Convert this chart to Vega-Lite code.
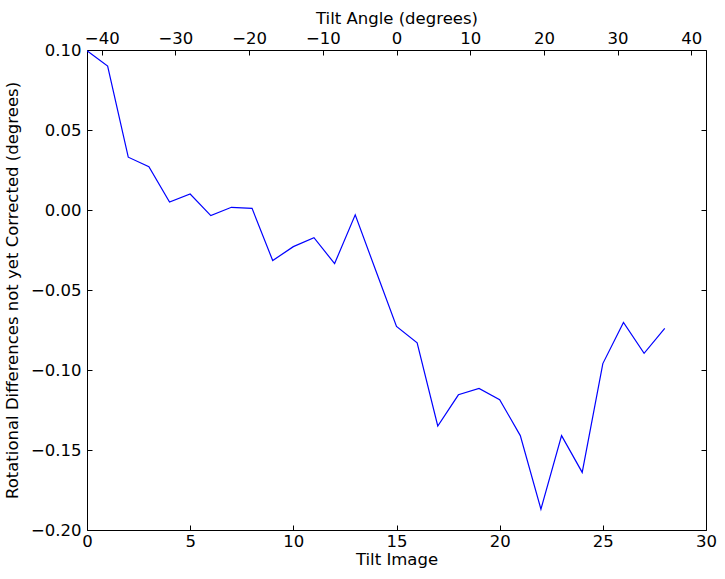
{
  "$schema": "https://vega.github.io/schema/vega-lite/v6.json",
  "width": 619,
  "height": 480,
  "autosize": "none",
  "padding": {"left": 87, "top": 50, "right": 19, "bottom": 49},
  "background": "white",
  "config": {
    "view": {"stroke": "black", "strokeWidth": 1},
    "font": "DejaVu Sans",
    "axis": {
      "domain": false,
      "grid": false,
      "tickColor": "black",
      "tickSize": -5,
      "labelFont": "DejaVu Sans",
      "labelFontSize": 16.5,
      "labelColor": "black",
      "titleFont": "DejaVu Sans",
      "titleFontSize": 16.5,
      "titleFontWeight": "normal",
      "titleColor": "black",
      "labelFlush": false,
      "labelOverlap": false
    }
  },
  "datasets": {
    "main": [
      {"image": 0, "value": 0.0995},
      {"image": 1, "value": 0.090},
      {"image": 2, "value": 0.033},
      {"image": 3, "value": 0.027},
      {"image": 4, "value": 0.005},
      {"image": 5, "value": 0.010},
      {"image": 6, "value": -0.0035},
      {"image": 7, "value": 0.0017},
      {"image": 8, "value": 0.001},
      {"image": 9, "value": -0.0316},
      {"image": 10, "value": -0.0229},
      {"image": 11, "value": -0.0173},
      {"image": 12, "value": -0.0335},
      {"image": 13, "value": -0.003},
      {"image": 14, "value": -0.038},
      {"image": 15, "value": -0.0728},
      {"image": 16, "value": -0.083},
      {"image": 17, "value": -0.135},
      {"image": 18, "value": -0.1155},
      {"image": 19, "value": -0.1115},
      {"image": 20, "value": -0.1185},
      {"image": 21, "value": -0.141},
      {"image": 22, "value": -0.187},
      {"image": 23, "value": -0.141},
      {"image": 24, "value": -0.164},
      {"image": 25, "value": -0.096},
      {"image": 26, "value": -0.0703},
      {"image": 27, "value": -0.0896},
      {"image": 28, "value": -0.074}
    ],
    "angles": [
      {"angle": -42, "value": 0},
      {"angle": 42, "value": 0}
    ]
  },
  "layer": [
    {
      "data": {"name": "main"},
      "mark": {"type": "line", "color": "#0000ff", "strokeWidth": 1.2, "clip": true},
      "encoding": {
        "x": {
          "field": "image",
          "type": "quantitative",
          "scale": {"domain": [0, 30], "nice": false, "zero": false},
          "axis": {"orient": "bottom", "title": "Tilt Image", "values": [0, 5, 10, 15, 20, 25, 30], "labelPadding": 8, "titlePadding": 2}
        },
        "y": {
          "field": "value",
          "type": "quantitative",
          "scale": {"domain": [-0.2, 0.1], "nice": false, "zero": false},
          "axis": {"orient": "left", "title": "Rotational Differences not yet Corrected (degrees)", "values": [-0.2, -0.15, -0.1, -0.05, 0, 0.05, 0.1], "format": ".2f", "labelPadding": 11, "titlePadding": 10}
        }
      }
    },
    {
      "data": {"name": "angles"},
      "mark": {"type": "point", "opacity": 0},
      "encoding": {
        "x": {
          "field": "angle",
          "type": "quantitative",
          "scale": {"domain": [-42, 42], "nice": false, "zero": false},
          "axis": {"orient": "top", "title": "Tilt Angle (degrees)", "values": [-40, -30, -20, -10, 0, 10, 20, 30, 40], "labelPadding": 9, "titlePadding": 4}
        },
        "y": {
          "field": "value",
          "type": "quantitative",
          "axis": {"orient": "right", "title": null, "labels": false, "values": [-0.2, -0.15, -0.1, -0.05, 0, 0.05, 0.1]}
        }
      }
    }
  ],
  "resolve": {"scale": {"x": "independent"}, "axis": {"x": "independent", "y": "independent"}}
}
